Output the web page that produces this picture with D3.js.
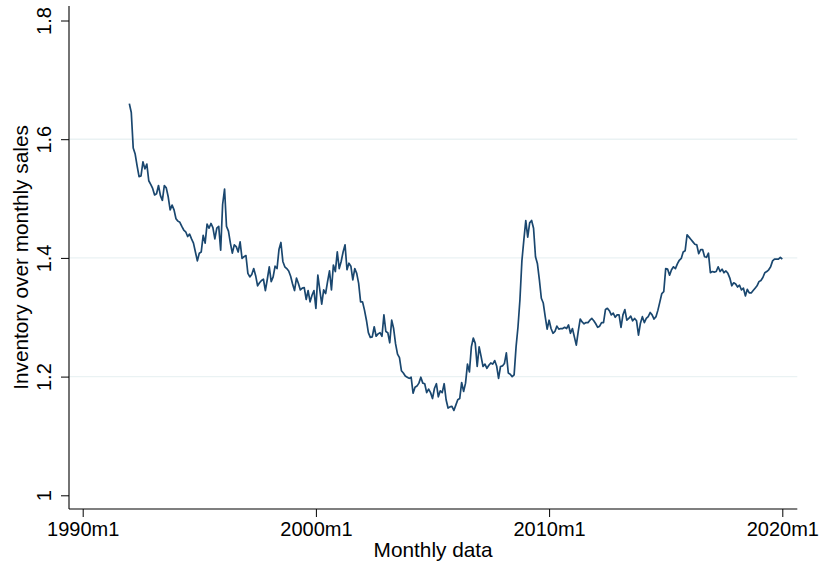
<!DOCTYPE html>
<html>
<head>
<meta charset="utf-8">
<script src="https://cdn.jsdelivr.net/npm/d3@7"></script>
<style>
  html, body { margin: 0; padding: 0; background: #fff; }
  svg { display: block; }
  text { font-family: "Liberation Sans", Arial, sans-serif; fill: #000; }
</style>
</head>
<body>
<svg id="chart" width="820" height="564"></svg>
<script>
// ---- data ----
const startYear = 1992;           // series starts 1992m1, monthly
const values1992 = [1.66, 1.645, 1.585, 1.575, 1.555, 1.537, 1.538, 1.562, 1.55, 1.558, 1.53, 1.524];
const values1993 = [1.517, 1.506, 1.508, 1.522, 1.505, 1.497, 1.522, 1.518, 1.503, 1.481, 1.489, 1.481];
const values1994 = [1.466, 1.462, 1.46, 1.453, 1.447, 1.444, 1.436, 1.44, 1.432, 1.425, 1.41, 1.395];
const values1995 = [1.408, 1.41, 1.438, 1.425, 1.457, 1.45, 1.458, 1.451, 1.432, 1.45, 1.453, 1.413];
const values1996 = [1.49, 1.516, 1.453, 1.445, 1.425, 1.408, 1.422, 1.419, 1.41, 1.427, 1.399, 1.402];
const values1997 = [1.404, 1.374, 1.368, 1.372, 1.382, 1.37, 1.353, 1.358, 1.362, 1.364, 1.345, 1.364];
const values1998 = [1.385, 1.36, 1.368, 1.386, 1.382, 1.414, 1.426, 1.394, 1.385, 1.382, 1.378, 1.369];
const values1999 = [1.356, 1.345, 1.366, 1.357, 1.346, 1.349, 1.35, 1.33, 1.345, 1.326, 1.337, 1.345];
const values2000 = [1.315, 1.371, 1.346, 1.322, 1.346, 1.34, 1.36, 1.378, 1.346, 1.388, 1.377, 1.41];
const values2001 = [1.382, 1.394, 1.41, 1.422, 1.38, 1.391, 1.386, 1.363, 1.382, 1.374, 1.357, 1.326];
const values2002 = [1.326, 1.312, 1.295, 1.274, 1.266, 1.267, 1.284, 1.268, 1.272, 1.274, 1.268, 1.304];
const values2003 = [1.276, 1.274, 1.257, 1.295, 1.281, 1.255, 1.238, 1.232, 1.21, 1.206, 1.201, 1.199];
const values2004 = [1.197, 1.199, 1.172, 1.182, 1.184, 1.189, 1.199, 1.189, 1.188, 1.173, 1.179, 1.173];
const values2005 = [1.163, 1.18, 1.188, 1.166, 1.176, 1.173, 1.188, 1.161, 1.147, 1.149, 1.15, 1.143];
const values2006 = [1.152, 1.161, 1.163, 1.19, 1.175, 1.189, 1.221, 1.208, 1.25, 1.265, 1.256, 1.217];
const values2007 = [1.25, 1.234, 1.217, 1.221, 1.214, 1.219, 1.223, 1.221, 1.227, 1.218, 1.197, 1.217];
const values2008 = [1.218, 1.222, 1.24, 1.206, 1.204, 1.2, 1.203, 1.25, 1.284, 1.33, 1.395, 1.43];
const values2009 = [1.463, 1.435, 1.459, 1.463, 1.45, 1.402, 1.39, 1.363, 1.332, 1.324, 1.301, 1.28];
const values2010 = [1.295, 1.281, 1.273, 1.276, 1.285, 1.28, 1.281, 1.281, 1.283, 1.281, 1.287, 1.273];
const values2011 = [1.281, 1.267, 1.253, 1.276, 1.297, 1.292, 1.289, 1.291, 1.291, 1.295, 1.298, 1.294];
const values2012 = [1.289, 1.283, 1.285, 1.291, 1.291, 1.313, 1.315, 1.311, 1.304, 1.307, 1.3, 1.304];
const values2013 = [1.304, 1.283, 1.304, 1.313, 1.295, 1.298, 1.302, 1.294, 1.298, 1.294, 1.27, 1.29];
const values2014 = [1.301, 1.291, 1.298, 1.301, 1.308, 1.304, 1.297, 1.301, 1.312, 1.326, 1.34, 1.343];
const values2015 = [1.382, 1.381, 1.371, 1.38, 1.385, 1.382, 1.39, 1.396, 1.399, 1.41, 1.412, 1.439];
const values2016 = [1.435, 1.431, 1.427, 1.423, 1.422, 1.407, 1.414, 1.414, 1.402, 1.401, 1.408, 1.375];
const values2017 = [1.377, 1.376, 1.377, 1.385, 1.377, 1.381, 1.375, 1.378, 1.374, 1.366, 1.353, 1.358];
const values2018 = [1.356, 1.351, 1.354, 1.346, 1.349, 1.336, 1.347, 1.341, 1.341, 1.345, 1.349, 1.353];
const values2019 = [1.36, 1.362, 1.367, 1.375, 1.377, 1.38, 1.385, 1.395, 1.398, 1.398, 1.398, 1.401];
const values2020 = [1.398];

const xTickLabels = ["1990m1", "2000m1", "2010m1", "2020m1"];
const xTickYears  = [1990, 2000, 2010, 2020];
const yTicks = [1, 1.2, 1.4, 1.6, 1.8];
const yGridTicks = [1.2, 1.4, 1.6];
const xTitle = "Monthly data";
const yTitle = "Inventory over monthly sales";

const series = [].concat(values1992, values1993, values1994, values1995, values1996,
  values1997, values1998, values1999, values2000, values2001, values2002, values2003,
  values2004, values2005, values2006, values2007, values2008, values2009, values2010,
  values2011, values2012, values2013, values2014, values2015, values2016, values2017,
  values2018, values2019, values2020);
// month index relative to 1990m1
const points = series.map((v, i) => ({ t: (startYear - 1990) * 12 + i, v }));

// ---- layout ----
const svg = d3.select("#chart");
const plotLeft = 69, plotRight = 797.3, plotTop = 6, plotBottom = 509;

const x = d3.scaleLinear().domain([0, 360]).range([82.7, 782.3]);
const y = d3.scaleLinear().domain([1, 1.8]).range([495.3, 20.5]);

// grid lines
svg.append("g").selectAll("line").data(yGridTicks).join("line")
  .attr("x1", plotLeft).attr("x2", plotRight)
  .attr("y1", d => y(d)).attr("y2", d => y(d))
  .attr("stroke", "#eaf2f3").attr("stroke-width", 1.4);

// y axis
const yAxis = d3.axisLeft(y).tickValues(yTicks).tickSize(8).tickPadding(10)
  .tickFormat(d => d3.format("")(+d.toFixed(1)));
const gy = svg.append("g").attr("transform", `translate(${plotLeft},0)`).call(yAxis);
gy.select(".domain").remove();
gy.selectAll(".tick line").attr("stroke", "#000").attr("stroke-width", 1);
gy.selectAll(".tick text")
  .attr("font-size", 20)
  .attr("font-family", "Liberation Sans, Arial, sans-serif")
  .attr("x", null).attr("dy", null)
  .attr("text-anchor", "middle")
  .attr("transform", "translate(-18.5,0) rotate(-90)");
svg.append("line").attr("x1", plotLeft).attr("x2", plotLeft)
  .attr("y1", plotTop).attr("y2", plotBottom)
  .attr("stroke", "#000").attr("stroke-width", 1.1);

// x axis
const xAxis = d3.axisBottom(x).tickValues(xTickYears.map(yr => (yr - 1990) * 12))
  .tickSize(8).tickPadding(5)
  .tickFormat((d, i) => xTickLabels[i]);
const gx = svg.append("g").attr("transform", `translate(0,${plotBottom})`).call(xAxis);
gx.select(".domain").remove();
gx.selectAll(".tick line").attr("stroke", "#000").attr("stroke-width", 1);
gx.selectAll(".tick text")
  .attr("font-size", 20)
  .attr("font-family", "Liberation Sans, Arial, sans-serif")
  .attr("dy", null).attr("y", 27);
svg.append("line").attr("x1", plotLeft).attr("x2", plotRight)
  .attr("y1", plotBottom).attr("y2", plotBottom)
  .attr("stroke", "#000").attr("stroke-width", 1.1);

// line
const line = d3.line().x(d => x(d.t)).y(d => y(d.v));
svg.append("path").datum(points)
  .attr("d", line)
  .attr("fill", "none")
  .attr("stroke", "#1a476f")
  .attr("stroke-width", 1.7)
  .attr("stroke-linejoin", "round");

// titles
svg.append("text")
  .attr("x", (plotLeft + plotRight) / 2).attr("y", 557)
  .attr("text-anchor", "middle").attr("font-size", 20.8)
  .text(xTitle);
svg.append("text")
  .attr("transform", `translate(28,${(plotTop + plotBottom) / 2}) rotate(-90)`)
  .attr("text-anchor", "middle").attr("font-size", 20.8)
  .text(yTitle);
</script>
</body>
</html>
